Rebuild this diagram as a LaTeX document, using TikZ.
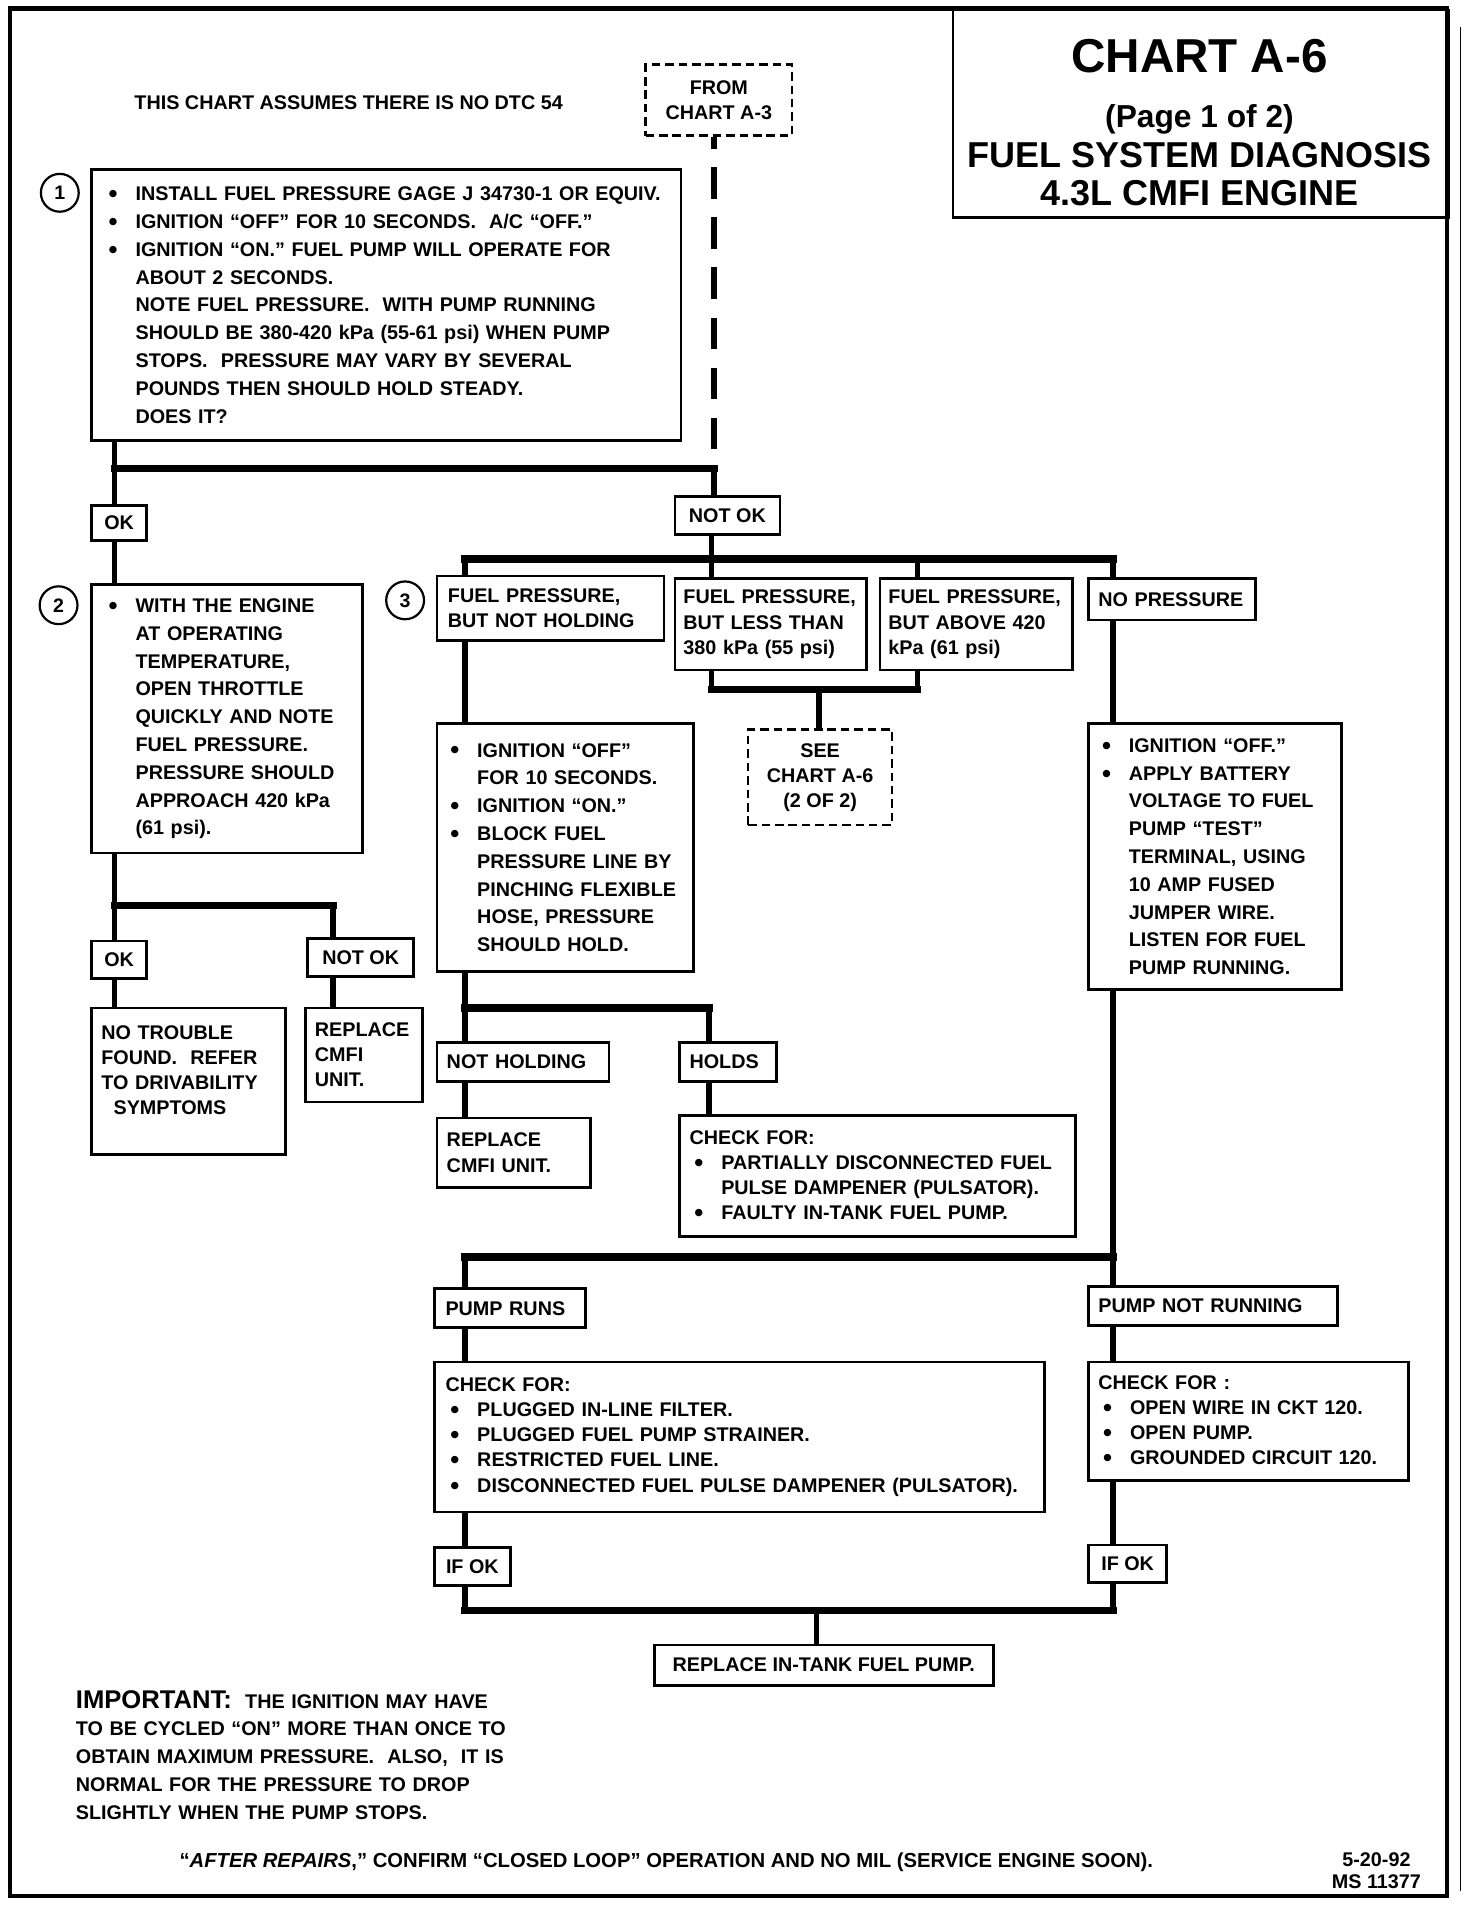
\documentclass[tikz,border=0pt]{standalone}
\usepackage{fontspec}
\setmainfont{Liberation Sans}
\newcommand{\blt}{\makebox[22pt][l]{\raisebox{-1.6pt}{\fontsize{21}{21}\selectfont\textbullet}}}
\newcommand{\nob}{\hspace*{22pt}}

\begin{document}
\begin{tikzpicture}[x=1pt, y=-1pt,
  box/.style={draw, line width=2.2pt, anchor=north west, align=left, inner xsep=9pt, inner ysep=0pt, font=\fontsize{16.2}{20.6}\selectfont\bfseries},
  tall/.style={font=\fontsize{16.2}{22.8}\selectfont\bfseries},
  lbl/.style={box, align=center, inner xsep=0pt},
  dbox/.style={box, align=center, inner xsep=4pt, dash pattern=on 7pt off 4pt},
  num/.style={draw, circle, line width=1.8pt, minimum size=31pt, inner sep=0pt, font=\fontsize{16}{16}\selectfont\bfseries},
  txt/.style={inner sep=0pt, font=\fontsize{16.2}{22.8}\selectfont\bfseries},
  ttl/.style={inner sep=0pt, font=\fontsize{29.5}{29.5}\selectfont\bfseries},
  conn/.style={line width=4.5pt},
  bar/.style={line width=6pt, line cap=rect},
  dashline/.style={line width=4.5pt, dash pattern=on 26pt off 15pt, dash phase=16pt}]
	\useasboundingbox (0,0) rectangle (1206,1562);
	\draw[line width=3.5pt] (8,7) rectangle (1186,1554);
	\draw[line width=1.2pt] (1197,22) -- (1197,1550);
	% title block
	\node (Title) [draw, line width=2.2pt, anchor=north west, minimum width=406pt, minimum height=170pt] at (780,7) {};
	\node (ChartName) [ttl, font=\fontsize{39}{39}\selectfont\bfseries] at (983,46) {CHART A-6};
	\node (PageNo) [ttl, font=\fontsize{26}{26}\selectfont\bfseries] at (983,98) {(Page 1 of 2)};
	\node (SysName) [ttl] at (983,127) {FUEL SYSTEM DIAGNOSIS};
	\node (Engine) [ttl] at (983,158) {4.3L CMFI ENGINE};
	\node (Assumes) [txt, anchor=west] at (110,84) {THIS CHART ASSUMES THERE IS NO DTC 54};
	\node (FromA3) [dbox, minimum width=120pt, minimum height=58pt] at (528,52) {FROM\\CHART A-3};
	% step 1
	\node (Num1) [num] at (49,158) {1};
	\node (Install) [box, tall, inner xsep=14pt, text width=455pt, minimum height=222pt] at (74,138)
	  {\blt INSTALL FUEL PRESSURE GAGE J 34730-1 OR EQUIV.\\
	   \blt IGNITION ``OFF'' FOR 10 SECONDS.\ \ A/C ``OFF.''\\
	   \blt IGNITION ``ON.'' FUEL PUMP WILL OPERATE FOR\\
	   \nob ABOUT 2 SECONDS.\\
	   \nob NOTE FUEL PRESSURE.\ \ WITH PUMP RUNNING\\
	   \nob SHOULD BE 380-420 kPa (55-61 psi) WHEN PUMP\\
	   \nob STOPS.\ \ PRESSURE MAY VARY BY SEVERAL\\
	   \nob POUNDS THEN SHOULD HOLD STEADY.\\
	   \nob DOES IT?};
	\node (OK1) [lbl, minimum width=45pt, minimum height=29pt] at (74,413) {OK};
	\node (NotOK1) [lbl, minimum width=86pt, minimum height=31pt] at (552,406) {NOT OK};
	% step 2
	\node (Num2) [num] at (48,496) {2};
	\node (Throttle) [box, tall, inner xsep=14pt, text width=194pt, minimum height=220pt] at (74,478)
	  {\blt WITH THE ENGINE\\
	   \nob AT OPERATING\\
	   \nob TEMPERATURE,\\
	   \nob OPEN THROTTLE\\
	   \nob QUICKLY AND NOTE\\
	   \nob FUEL PRESSURE.\\
	   \nob PRESSURE SHOULD\\
	   \nob APPROACH 420 kPa\\
	   \nob (61 psi).};
	\node (OK2) [lbl, minimum width=45pt, minimum height=31pt] at (74,770) {OK};
	\node (NotOK2) [lbl, minimum width=87pt, minimum height=31pt] at (251,768) {NOT OK};
	\node (NoTrouble) [box, inner xsep=8pt, text width=143pt, minimum height=120pt, text depth=80pt] at (74,825)
	  {NO TROUBLE\\FOUND.\ \ REFER\\TO DRIVABILITY\\\hspace*{10pt}SYMPTOMS};
	\node (ReplaceCMFI) [box, inner xsep=8pt, text width=80pt, minimum height=77pt] at (249,825)
	  {REPLACE\\CMFI\\UNIT.};
	% step 3
	\node (Num3) [num] at (332,492) {3};
	\node (NotHolding) [box, text width=168pt, minimum height=53pt] at (357,471)
	  {FUEL PRESSURE,\\BUT NOT HOLDING};
	\node (LessThan) [box, inner xsep=7pt, text width=143pt, minimum height=75pt] at (552,473)
	  {FUEL PRESSURE,\\BUT LESS THAN\\380 kPa (55 psi)};
	\node (Above) [box, inner xsep=7pt, text width=144pt, minimum height=75pt] at (720,473)
	  {FUEL PRESSURE,\\BUT ABOVE 420\\kPa (61 psi)};
	\node (NoPressure) [box, inner xsep=8pt, text width=121pt, minimum height=34pt] at (891,473)
	  {NO PRESSURE};
	\node (SeeA6) [dbox, minimum width=118pt, minimum height=78pt] at (612,597)
	  {SEE\\CHART A-6\\(2 OF 2)};
	\node (BlockLine) [box, tall, inner xsep=11pt, text width=188pt, minimum height=203pt] at (357,592)
	  {\blt IGNITION ``OFF''\\
	   \nob FOR 10 SECONDS.\\
	   \blt IGNITION ``ON.''\\
	   \blt BLOCK FUEL\\
	   \nob PRESSURE LINE BY\\
	   \nob PINCHING FLEXIBLE\\
	   \nob HOSE, PRESSURE\\
	   \nob SHOULD HOLD.};
	\node (BatteryTest) [box, tall, inner xsep=11pt, text width=185pt, minimum height=218pt] at (891,592)
	  {\blt IGNITION ``OFF.''\\
	   \blt APPLY BATTERY\\
	   \nob VOLTAGE TO FUEL\\
	   \nob PUMP ``TEST''\\
	   \nob TERMINAL, USING\\
	   \nob 10 AMP FUSED\\
	   \nob JUMPER WIRE.\\
	   \nob LISTEN FOR FUEL\\
	   \nob PUMP RUNNING.};
	\node (NotHolds) [box, inner xsep=8pt, text width=125pt, minimum height=32pt] at (357,853) {NOT HOLDING};
	\node (Holds) [box, inner xsep=8pt, text width=63pt, minimum height=32pt] at (556,853) {HOLDS};
	\node (ReplaceUnit) [box, inner xsep=8pt, text width=110pt, minimum height=57pt] at (357,915)
	  {REPLACE\\CMFI UNIT.};
	\node (CheckPulsator) [box, inner xsep=8pt, text width=308pt, minimum height=99pt] at (556,913)
	  {CHECK FOR:\\
	   \hspace*{4pt}\blt PARTIALLY DISCONNECTED FUEL\\
	   \hspace*{4pt}\nob PULSE DAMPENER (PULSATOR).\\
	   \hspace*{4pt}\blt FAULTY IN-TANK FUEL PUMP.};
	\node (PumpRuns) [box, text width=106pt, minimum height=32pt] at (355,1055) {PUMP RUNS};
	\node (NotRunning) [box, inner xsep=8pt, text width=188pt, minimum height=32pt] at (891,1053) {PUMP NOT RUNNING};
	\node (CheckFilter) [box, text width=482pt, minimum height=123pt] at (355,1115)
	  {CHECK FOR:\\
	   \hspace*{4pt}\blt PLUGGED IN-LINE FILTER.\\
	   \hspace*{4pt}\blt PLUGGED FUEL PUMP STRAINER.\\
	   \hspace*{4pt}\blt RESTRICTED FUEL LINE.\\
	   \hspace*{4pt}\blt DISCONNECTED FUEL PULSE DAMPENER (PULSATOR).};
	\node (CheckCircuit) [box, inner xsep=8pt, text width=246pt, minimum height=97pt] at (891,1115)
	  {CHECK FOR :\\
	   \hspace*{4pt}\blt OPEN WIRE IN CKT 120.\\
	   \hspace*{4pt}\blt OPEN PUMP.\\
	   \hspace*{4pt}\blt GROUNDED CIRCUIT 120.};
	\node (IfOK1) [lbl, minimum width=62pt, minimum height=31pt] at (355,1267) {IF OK};
	\node (IfOK2) [lbl, minimum width=64pt, minimum height=31pt] at (891,1265) {IF OK};
	\node (ReplaceTank) [lbl, minimum width=278pt, minimum height=33pt] at (535,1347) {REPLACE IN-TANK FUEL PUMP.};
	% notes
	\node (Important) [txt, anchor=north west, text width=373pt, align=left] at (62,1385)
	  {\makebox[373pt][s]{{\fontsize{21}{22.8}\selectfont IMPORTANT:}\ \ THE IGNITION MAY HAVE}\\
	   \makebox[373pt][s]{TO BE CYCLED ``ON'' MORE THAN ONCE TO}\\
	   \makebox[373pt][s]{OBTAIN MAXIMUM PRESSURE.\ \ ALSO,\ \ IT IS}\\
	   \makebox[373pt][s]{NORMAL FOR THE PRESSURE TO DROP}\\
	   SLIGHTLY WHEN THE PUMP STOPS.};
	\node (AfterRepairs) [txt, anchor=west, font=\fontsize{16.6}{22.8}\selectfont\bfseries] at (147,1526)
	  {``\textit{AFTER REPAIRS},''\ CONFIRM ``CLOSED LOOP'' OPERATION AND NO MIL (SERVICE ENGINE SOON).};
	\node (DateCode) [txt, align=center, font=\fontsize{16.2}{17.5}\selectfont\bfseries] at (1128,1533) {5-20-92\\MS 11377};
	% junctions and columns
	\coordinate (J1) at (585,384);
	\coordinate (J2) at (583,458);
	\coordinate (J3) at (671,565);
	\coordinate (J4) at (94,742);
	\coordinate (J5) at (381,826);
	\coordinate (J6) at (381,1030);
	\coordinate (J7) at (669,1320);
	\coordinate (cL) at (94,0);
	\coordinate (cN) at (273,0);
	\coordinate (cA) at (381,0);
	\coordinate (cC) at (752,0);
	\coordinate (cD) at (912,0);
	\coordinate (cH) at (581,0);
	% step 1 branches
	\draw[dashline] (FromA3.south -| J1) -- (J1);
	\draw[conn] (J1) -- (J1 |- NotOK1.north);
	\draw[conn] (Install.south -| cL) -- (OK1.north -| cL);
	\draw[bar] (J1 -| cL) -- (J1);
	% step 2 branches
	\draw[conn] (OK1.south -| cL) -- (Throttle.north -| cL);
	\draw[conn] (Throttle.south -| cL) -- (OK2.north -| cL);
	\draw[bar] (J4) -- (J4 -| cN);
	\draw[conn] (J4 -| cN) -- (NotOK2.north -| cN);
	\draw[conn] (OK2.south -| cL) -- (NoTrouble.north -| cL);
	\draw[conn] (NotOK2.south -| cN) -- (ReplaceCMFI.north -| cN);
	% step 3 branches
	\draw[conn] (NotOK1.south -| J2) -- (J2);
	\draw[bar] (J2 -| cA) -- (J2 -| cD);
	\draw[conn] (J2 -| cA) -- (NotHolding.north -| cA);
	\draw[conn] (J2) -- (LessThan.north -| J2);
	\draw[conn] (J2 -| cC) -- (Above.north -| cC);
	\draw[conn] (J2 -| cD) -- (NoPressure.north -| cD);
	\draw[conn] (LessThan.south -| J2) -- (J3 -| J2);
	\draw[conn] (Above.south -| cC) -- (J3 -| cC);
	\draw[bar] (J3 -| J2) -- (J3 -| cC);
	\draw[conn] (J3) -- (SeeA6.north -| J3);
	\draw[conn] (NotHolding.south -| cA) -- (BlockLine.north -| cA);
	\draw[conn] (BlockLine.south -| cA) -- (NotHolds.north -| cA);
	\draw[bar] (J5) -- (J5 -| cH);
	\draw[conn] (J5 -| cH) -- (Holds.north -| cH);
	\draw[conn] (NotHolds.south -| cA) -- (ReplaceUnit.north -| cA);
	\draw[conn] (Holds.south -| cH) -- (CheckPulsator.north -| cH);
	% no pressure
	\draw[conn] (NoPressure.south -| cD) -- (BatteryTest.north -| cD);
	\draw[conn] (BatteryTest.south -| cD) -- (NotRunning.north -| cD);
	\draw[bar] (J6) -- (J6 -| cD);
	\draw[conn] (J6) -- (PumpRuns.north -| J6);
	\draw[conn] (PumpRuns.south -| cA) -- (CheckFilter.north -| cA);
	\draw[conn] (NotRunning.south -| cD) -- (CheckCircuit.north -| cD);
	\draw[conn] (CheckFilter.south -| cA) -- (IfOK1.north -| cA);
	\draw[conn] (CheckCircuit.south -| cD) -- (IfOK2.north -| cD);
	\draw[conn] (IfOK1.south -| cA) -- (J7 -| cA);
	\draw[conn] (IfOK2.south -| cD) -- (J7 -| cD);
	\draw[bar] (J7 -| cA) -- (J7 -| cD);
	\draw[conn] (J7) -- (ReplaceTank.north -| J7);
\end{tikzpicture}
\end{document}
